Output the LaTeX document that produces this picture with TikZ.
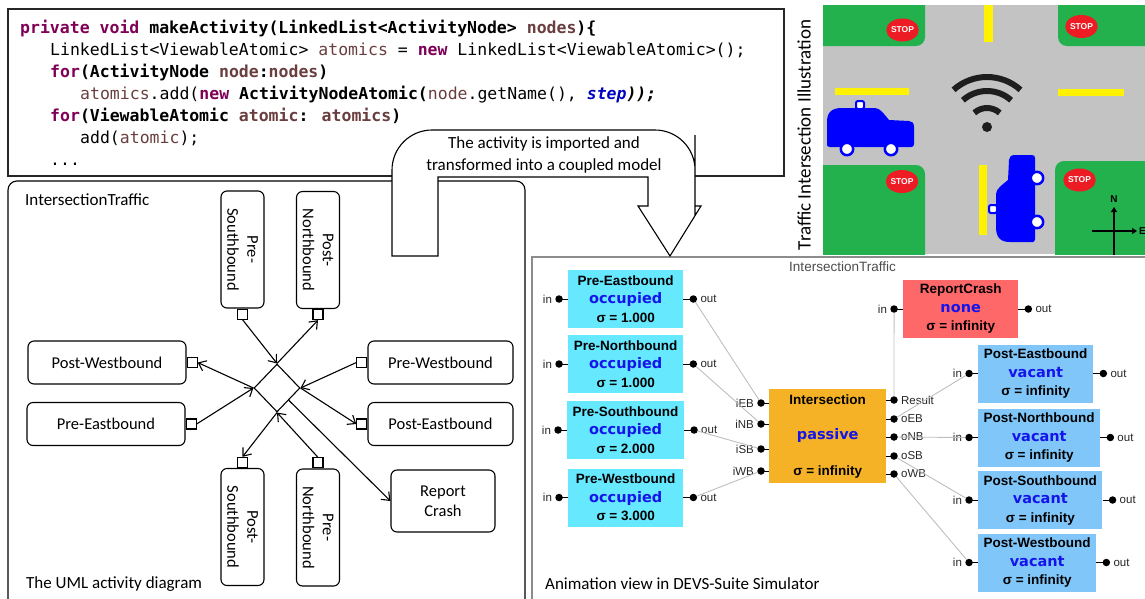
\documentclass[tikz,border=0pt]{standalone}
\usepackage{fontspec}
\usetikzlibrary{positioning,shapes.geometric,arrows.meta}

\setmainfont{Carlito}
\newfontfamily\codefont{DejaVu Sans Mono}
\newfontfamily\devsfont{Liberation Sans}
\newfontfamily\statefont{DejaVu Sans}

% eclipse-like syntax colours
\definecolor{javakw}{RGB}{127,0,85}
\definecolor{javavar}{RGB}{106,62,62}
\definecolor{javafld}{RGB}{0,0,192}
% intersection sketch
\definecolor{road}{RGB}{195,195,195}
\definecolor{grass}{RGB}{34,177,76}
\definecolor{stopred}{RGB}{237,28,36}
\definecolor{lane}{RGB}{255,242,0}
\definecolor{carblue}{RGB}{0,0,255}
\definecolor{wifi}{RGB}{30,30,30}
% devs view
\definecolor{precyan}{RGB}{102,232,255}
\definecolor{postblue}{RGB}{128,198,248}
\definecolor{intorange}{RGB}{246,178,38}
\definecolor{crashred}{RGB}{255,104,104}
\definecolor{stateblue}{RGB}{20,20,235}
\definecolor{wiregray}{RGB}{190,190,190}
\definecolor{panelgray}{RGB}{140,140,140}

\newcommand{\jkw}[1]{\textcolor{javakw}{\bfseries #1}}
\newcommand{\jvar}[1]{\textcolor{javavar}{#1}}
\newcommand{\devsstate}[1]{{\fontsize{14.5}{18.5}\selectfont\statefont\bfseries\color{stateblue}#1}}

% little car, drawn facing +x with wheels on +y
\newcommand{\drawcar}{%
  \fill[carblue] (0,45) -- (0,22) .. controls (0,12) and (5,8) .. (15,8) -- (48,8)
    .. controls (53,8) and (57,14) .. (62,20) -- (82,21) .. controls (85,21) and (87,23) .. (87,27)
    -- (87,44) .. controls (87,46) and (86,47) .. (84,47) -- (3,47) .. controls (1,47) and (0,46) .. (0,45) -- cycle;
  \draw[carblue, fill=white, line width=2pt, rounded corners=2pt] (29,1) rectangle (37,9);
  \draw[carblue, fill=white, line width=2.5pt] (20,49) circle (6.2) (64,49) circle (6.2);
}

\tikzset{
  code/.style={anchor=base west, inner sep=0pt, font=\fontsize{16.5}{22}\selectfont\codefont},
  act/.style={draw, rounded corners=6pt, line width=1.1pt, minimum height=43pt, align=center,
    inner sep=2pt, font=\fontsize{16.5}{20}\selectfont},
  actv/.style={act, rotate=-90, minimum width=117pt},
  pinbox/.style={draw, fill=white, line width=1.1pt, minimum size=10pt, inner sep=0pt},
  flow/.style={line width=1.1pt, -{Straight Barb[length=7pt,width=11pt]}},
  caption/.style={anchor=base west, inner sep=0pt, font=\fontsize{17}{20}\selectfont},
  stopsign/.style={ellipse, fill=stopred, text=white, minimum width=32pt, minimum height=23pt,
    inner sep=0pt, font=\fontsize{8.5}{10}\selectfont\devsfont\bfseries},
  devs/.style={anchor=west, minimum width=115pt, minimum height=58pt, inner xsep=5.5pt,
    inner ysep=2pt, align=center, font=\fontsize{13.5}{18.5}\selectfont\devsfont\bfseries},
  port/.style={circle, fill=black, minimum size=7.5pt, inner sep=0pt},
  portlbl/.style={inner sep=1pt, text=black!85, font=\fontsize{11.5}{13}\selectfont\devsfont},
  stub/.style={line width=1pt},
  wire/.style={draw=wiregray, line width=0.9pt},
}

\begin{document}
\begin{tikzpicture}[x=1pt, y=-1pt]
\useasboundingbox (0,0) rectangle (1145,598);

% java source
\draw[line width=1.1pt, black!85] (8,9) rectangle (784,176);
\node[code] (src1) at (20,33) {\bfseries\jkw{private void} makeActivity(LinkedList<ActivityNode> \jvar{nodes})\{};
\node[code] (src2) at (50,55) {LinkedList<ViewableAtomic> \jvar{atomics} = \jkw{new} LinkedList<ViewableAtomic>();};
\node[code] (src3) at (50,77) {\bfseries\jkw{for}(ActivityNode \jvar{node}:\jvar{nodes})};
\node[code] (src4) at (80,99) {\jvar{atomics}.add(\jkw{new} \textbf{ActivityNodeAtomic(}\jvar{node}.getName(), \textcolor{javafld}{\bfseries\itshape step}\textbf{\itshape ));}};
\node[code] (src5) at (50,121) {\bfseries\jkw{for}(ViewableAtomic \jvar{atomic}: \jvar{atomics})};
\node[code] (src6) at (80,143) {add(\jvar{atomic});};
\node[code] (src7) at (50,165) {...};

% activity diagram
\draw[line width=1.1pt, rounded corners=9pt] (8,181) rectangle (525,615);
\node[caption] (uml-name) at (25,205.5) {IntersectionTraffic};
\node[caption] (uml-cap) at (26,588) {The UML activity diagram};

\node[act, minimum width=158pt] (postw) at (107,362.5) {Post-Westbound};
\node[act, minimum width=158pt] (pree) at (106,424) {Pre-Eastbound};
\node[act, minimum width=145pt] (prew) at (440.5,362.5) {Pre-Westbound};
\node[act, minimum width=145pt] (poste) at (440.5,424) {Post-Eastbound};
\node[act, minimum width=104pt, minimum height=62pt] (report) at (443,501) {Report\\Crash};
\node[actv] (pres) at (242.5,249.5) {Pre-\\Southbound};
\node[actv] (postn) at (318,250) {Post-\\Northbound};
\node[actv] (posts) at (242.5,527) {Post-\\Southbound};
\node[actv] (pren) at (318,527.5) {Pre-\\Northbound};

\node[pinbox, right=0pt of postw] (postw-p) {};
\node[pinbox, right=0pt of pree] (pree-p) {};
\node[pinbox, left=0pt of prew] (prew-p) {};
\node[pinbox, left=0pt of poste] (poste-p) {};
\node[pinbox, anchor=north] (pres-p) at (pres.east) {};
\node[pinbox, anchor=north] (postn-p) at (postn.east) {};
\node[pinbox, anchor=south] (posts-p) at (posts.west) {};
\node[pinbox, anchor=south] (pren-p) at (pren.west) {};
\node[draw, diamond, aspect=1, line width=1.1pt, minimum width=46pt, minimum height=48pt,
  inner sep=0pt] (merge) at (277,388) {};

\draw[flow] (pres-p.south) -- (merge.north);
\draw[flow] (merge.north) -- (postn-p.south);
\draw[flow] (pree-p.east) -- (merge.west);
\draw[flow] (merge.west) -- (postw-p.east);
\draw[flow] (prew-p.west) -- (merge.east);
\draw[flow] (merge.east) -- (poste-p.west);
\draw[flow] (pren-p.north) -- (merge.south);
\draw[flow] (merge.south) -- (posts-p.north);
\draw[flow] (merge.south east) -- (report.west);

% devs-suite animation view
\draw[panelgray, line width=1.3pt] (532,615) -- (532,257) -- (1160,257);
\node[inner sep=1pt, text=black!70, font=\fontsize{13.5}{15}\selectfont\devsfont] (devs-name) at (842.5,267) {IntersectionTraffic};
\node[caption] (devs-cap) at (545,589) {Animation view in DEVS-Suite Simulator};

\node[devs, fill=precyan] (d-pree) at (568,299) {Pre-Eastbound\\\devsstate{occupied}\\σ = 1.000};
\node[devs, fill=precyan] (d-pren) at (568,364) {Pre-Northbound\\\devsstate{occupied}\\σ = 1.000};
\node[devs, fill=precyan] (d-pres) at (567,430) {Pre-Southbound\\\devsstate{occupied}\\σ = 2.000};
\node[devs, fill=precyan] (d-prew) at (568,497.5) {Pre-Westbound\\\devsstate{occupied}\\σ = 3.000};
\node[devs, fill=intorange, minimum width=117pt, minimum height=94pt] (d-int) at (769,436)
  {Intersection\\[17pt]\devsstate{passive}\\[17pt]σ = infinity};
\node[devs, fill=crashred] (d-crash) at (903,309) {ReportCrash\\\devsstate{none}\\σ = infinity};
\node[devs, fill=postblue] (d-poste) at (978,373.5) {Post-Eastbound\\\devsstate{vacant}\\σ = infinity};
\node[devs, fill=postblue] (d-postn) at (978,437.5) {Post-Northbound\\\devsstate{vacant}\\σ = infinity};
\node[devs, fill=postblue] (d-posts) at (978,500) {Post-Southbound\\\devsstate{vacant}\\σ = infinity};
\node[devs, fill=postblue] (d-postw) at (978,562.5) {Post-Westbound\\\devsstate{vacant}\\σ = infinity};

\foreach \m in {d-pree,d-pren,d-pres,d-prew,d-crash,d-poste,d-postn,d-posts,d-postw} {
  \node[port, left=5pt of \m] (\m-in) {};
  \node[port, right=6pt of \m] (\m-out) {};
  \draw[stub] (\m-in.center) -- (\m.west);
  \draw[stub] (\m.east) -- (\m-out.center);
  \node[portlbl, left=2pt of \m-in] (\m-inl) {in};
  \node[portlbl, right=2pt of \m-out] (\m-outl) {out};
}
\foreach \p/\y/\t in {eb/403/iEB, nb/424/iNB, sb/449/iSB, wb/471/iWB} {
  \node[port] (i-\p) at (761,\y) {};
  \draw[stub] (i-\p.center) -- (i-\p -| d-int.west);
  \node[portlbl, left=2pt of i-\p] (i-\p-l) {\t};
}
\foreach \p/\y/\t in {res/400/Result, eb/419/oEB, nb/437/oNB, sb/456/oSB, wb/474/oWB} {
  \node[port] (o-\p) at (894,\y) {};
  \draw[stub] (o-\p -| d-int.east) -- (o-\p.center);
  \node[portlbl, right=2pt of o-\p] (o-\p-l) {\t};
}
\draw[wire] (d-pree-out) -- (i-eb);
\draw[wire] (d-pren-out) -- (i-nb);
\draw[wire] (d-pres-out) -- (i-sb);
\draw[wire] (d-prew-out) -- (i-wb);
\draw[wire] (o-res) -- (d-crash-in);
\draw[wire] (o-eb) -- (d-poste-in);
\draw[wire] (o-nb) -- (d-postn-in);
\draw[wire] (o-sb) -- (d-posts-in);
\draw[wire] (o-wb) -- (d-postw-in);

% intersection sketch
\node[rotate=90, inner sep=0pt, font=\fontsize{19}{22}\selectfont] (sketch-name) at (804,135)
  {Traffic Intersection Illustration};
\begin{scope}
  \clip (823,5) rectangle (1150,254);
  \fill[road] (823,5) rectangle (1150,254);
  \fill[grass, rounded corners=9pt] (800,-20) rectangle (925,46);
  \fill[grass, rounded corners=9pt] (1058,-20) rectangle (1170,46);
  \fill[grass, rounded corners=9pt] (800,165) rectangle (925,280);
  \fill[grass, rounded corners=9pt] (1055,161) rectangle (1170,280);
  % lane marks
  \fill[lane] (984,5) rectangle (993,42);
  \fill[lane] (835,88) rectangle (909,95);
  \fill[lane] (1058,89) rectangle (1124,96);
  \fill[lane] (979,165) rectangle (987,235);
  % wireless beacon
  \foreach \r in {19,36,50}
    \draw[wifi, line width=6pt] (987,127) ++(-132:\r) arc[start angle=-132, end angle=-48, radius=\r];
  \fill[wifi] (987,127) circle (5);
  % cars
  \begin{scope}[shift={(827,100)}]
    \drawcar
  \end{scope}
  \begin{scope}[shift={(988,242)}, rotate=90]
    \drawcar
  \end{scope}
  % compass
  \draw[line width=2.5pt, -{Triangle[length=5pt,width=6pt]}] (1114,256) -- (1114,207);
  \draw[line width=2.5pt, -{Triangle[length=5pt,width=6pt]}] (1092,231) -- (1137,231);
  \node[inner sep=0pt, font=\fontsize{10}{12}\selectfont\devsfont\bfseries] (north-lbl) at (1114,199) {N};
  \node[inner sep=0pt, anchor=west, font=\fontsize{10}{12}\selectfont\devsfont\bfseries] (east-lbl) at (1139,231) {E};
\end{scope}
\node[stopsign] (stop-nw) at (902.5,30) {STOP};
\node[stopsign] (stop-ne) at (1081.5,26.5) {STOP};
\node[stopsign] (stop-sw) at (902,181.5) {STOP};
\node[stopsign] (stop-se) at (1079.5,180) {STOP};

% conversion arrow
\draw[line width=1.1pt, fill=white] (392,256) -- (392,200) [rounded corners=40pt] -- (392,130)
  -- (695,130) -- (695,175) [sharp corners] -- (695,206) -- (701,206) -- (670,256) -- (638,206)
  -- (648,206) -- (648,177) -- (438,177) -- (438,256) -- cycle;
\node[font=\fontsize{17}{22}\selectfont, align=center] (convert) at (544,154.5)
  {The activity is imported and\\transformed into a coupled model};
\end{tikzpicture}
\end{document}
